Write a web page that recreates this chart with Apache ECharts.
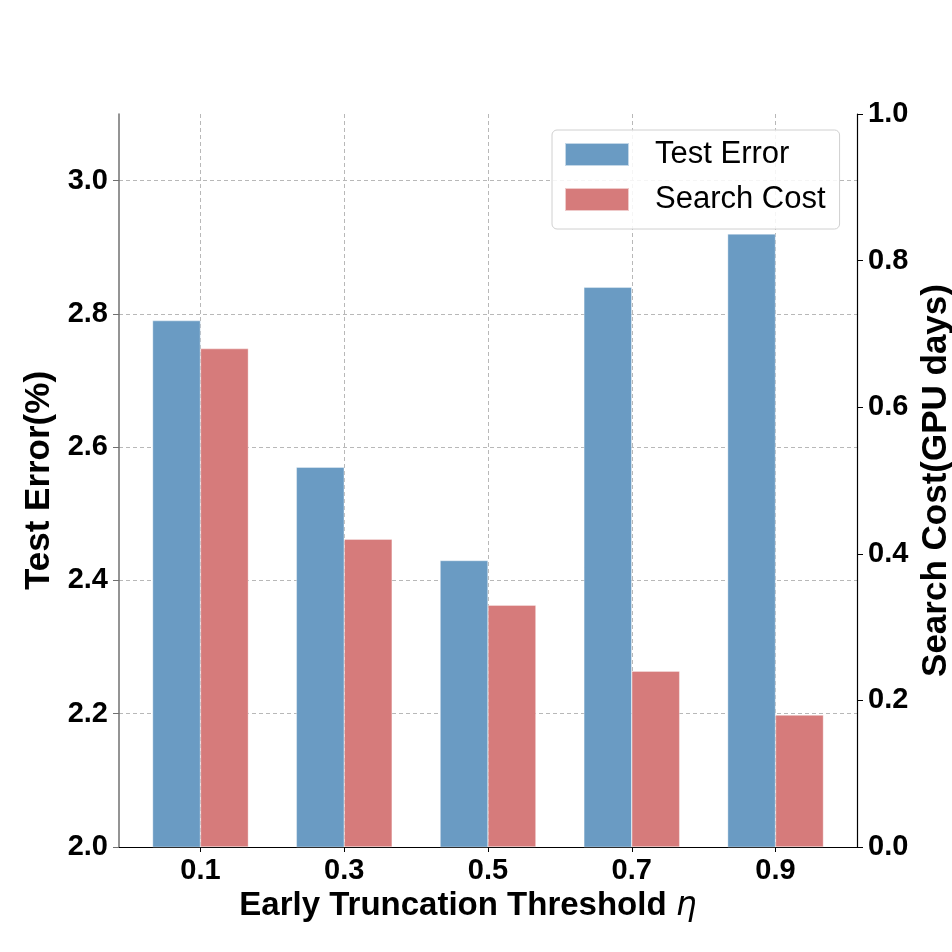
<!DOCTYPE html>
<html>
<head>
<meta charset="utf-8">
<title>Early truncation threshold</title>
<script src="https://cdn.jsdelivr.net/npm/echarts@6/dist/echarts.min.js"></script>
<style>
  html, body { margin: 0; padding: 0; background: #fff; overflow: hidden; }
  #chart { width: 952px; height: 952px; }
</style>
</head>
<body>
<div id="chart"></div>
<script>
// values
var thresholds = ['0.1', '0.3', '0.5', '0.7', '0.9'];
var testError = [2.79, 2.57, 2.43, 2.84, 2.92];
var searchCost = [0.68, 0.42, 0.33, 0.24, 0.18];
var errorTicks = [2.0, 2.2, 2.4, 2.6, 2.8, 3.0];
var costTicks = [0.0, 0.2, 0.4, 0.6, 0.8, 1.0];

var FONT = '"Liberation Sans", Arial, sans-serif';
var BLUE = '#6a9bc3';
var RED = '#d67b7b';
var tickPos = thresholds.map(function (t, i) { return i; });

var chart = echarts.init(document.getElementById('chart'), null, { renderer: 'canvas', width: 952, height: 952 });

var labelStyle = {
  fontFamily: FONT,
  fontSize: 29,
  fontWeight: 'bold',
  color: '#000'
};

var option = {
  backgroundColor: '#fff',
  animation: false,
  grid: { left: 119, right: 95, top: 114, bottom: 105, containLabel: false, outerBoundsMode: 'none' },
  legend: {
    orient: 'vertical',
    left: 552,
    top: 130,
    padding: [9, 14, 14, 12],
    itemWidth: 64,
    itemHeight: 23,
    itemGap: 14,
    icon: 'rect',
    backgroundColor: 'rgba(255,255,255,0.85)',
    borderColor: '#d0d0d0',
    borderWidth: 1,
    borderRadius: 5,
    textStyle: {
      fontFamily: FONT,
      fontSize: 31,
      color: '#000',
      padding: [0, 0, 0, 21]
    },
    data: ['Test Error', 'Search Cost']
  },
  xAxis: {
    type: 'value',
    min: -0.5667,
    max: 4.5667,
    name: 'Early Truncation Threshold {eta|η}',
    nameLocation: 'middle',
    nameGap: 40,
    nameTextStyle: {
      fontFamily: FONT,
      fontSize: 33,
      fontWeight: 'bold',
      color: '#000',
      padding: [0, 40, 0, 0],
      rich: {
        eta: {
          fontFamily: '"DejaVu Sans", sans-serif',
          fontStyle: 'italic',
          fontWeight: 'normal',
          fontSize: 33,
          color: '#000'
        }
      }
    },
    axisLine: { show: true, onZero: false, lineStyle: { color: '#000', width: 1.2 } },
    axisTick: { show: true, length: 5, customValues: tickPos, lineStyle: { color: '#000' } },
    axisLabel: Object.assign({
      margin: 9,
      customValues: tickPos,
      formatter: function (v) { return thresholds[Math.round(v)]; }
    }, labelStyle),
    splitLine: { show: true, lineStyle: { color: '#b8b8b8', type: [4, 3], width: 1 } }
  },
  yAxis: [
    {
      type: 'value',
      position: 'left',
      min: 2.0,
      max: 3.1,
      interval: 0.2,
      name: 'Test Error(%)',
      nameLocation: 'middle',
      nameRotate: 90,
      nameGap: 58,
      nameTextStyle: { fontFamily: FONT, fontSize: 35, fontWeight: 'bold', color: '#000' },
      axisLine: { show: true, onZero: false, lineStyle: { color: '#707070', width: 1.5 } },
      axisTick: { show: true, length: 6, customValues: errorTicks, lineStyle: { color: '#707070' } },
      axisLabel: Object.assign({
        margin: 11,
        customValues: errorTicks,
        formatter: function (v) { return v.toFixed(1); }
      }, labelStyle),
      splitLine: { show: true, lineStyle: { color: '#b8b8b8', type: [4, 3], width: 1 } }
    },
    {
      type: 'value',
      position: 'right',
      min: 0,
      max: 1,
      interval: 0.2,
      name: 'Search Cost(GPU days)',
      nameLocation: 'middle',
      nameRotate: 90,
      nameGap: 52,
      nameTextStyle: { fontFamily: FONT, fontSize: 35, fontWeight: 'bold', color: '#000' },
      axisLine: { show: true, onZero: false, lineStyle: { color: '#000', width: 1.2 } },
      axisTick: { show: true, length: 6, customValues: costTicks, lineStyle: { color: '#000' } },
      axisLabel: Object.assign({
        margin: 11,
        customValues: costTicks,
        formatter: function (v) { return v.toFixed(1); }
      }, labelStyle),
      splitLine: { show: false }
    }
  ],
  series: [
    {
      name: 'Test Error',
      type: 'bar',
      yAxisIndex: 0,
      barWidth: 48,
      barGap: '-100%',
      clip: true,
      itemStyle: { color: BLUE, borderColor: 'rgba(255,255,255,0.6)', borderWidth: 0.6 },
      data: testError.map(function (v, i) { return [i - 1 / 6, v]; })
    },
    {
      name: 'Search Cost',
      type: 'bar',
      yAxisIndex: 1,
      barWidth: 48,
      barGap: '-100%',
      clip: true,
      itemStyle: { color: RED, borderColor: 'rgba(255,255,255,0.6)', borderWidth: 0.6 },
      data: searchCost.map(function (v, i) { return [i + 1 / 6, v]; })
    }
  ]
};

chart.setOption(option);
</script>
</body>
</html>
